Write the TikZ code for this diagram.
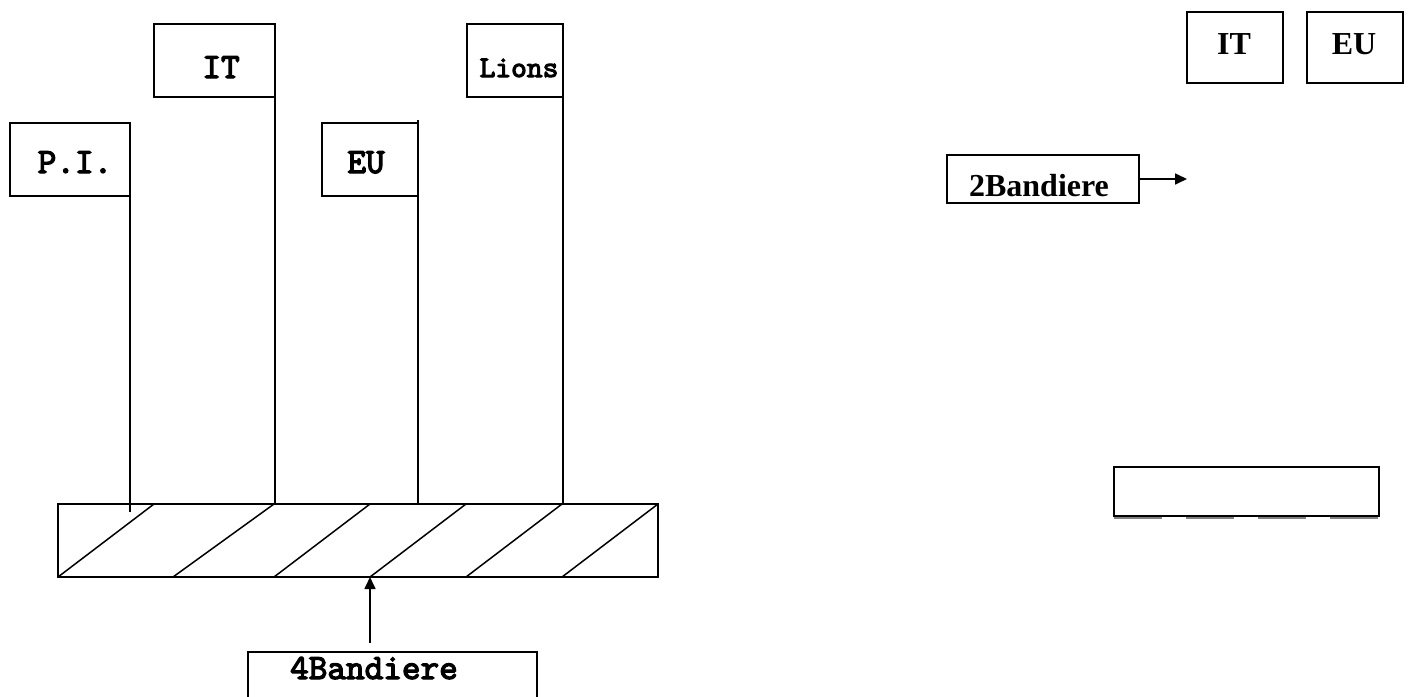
\documentclass[tikz,border=0pt]{standalone}
\usepackage{fontspec}
\newfontfamily\tms{Liberation Serif}
\newfontfamily\cour{lmmono10-regular.otf}[FakeBold=3.5]
\usetikzlibrary{arrows.meta}
\begin{document}
\begin{tikzpicture}[x=1pt,y=-1pt,
  box/.style={draw,line width=1.9pt,rectangle,inner sep=0pt,outer sep=0pt},
  ctext/.style={font=\cour\bfseries\fontsize{35.5}{37}\selectfont,anchor=base,inner sep=0pt},
  csmall/.style={font=\cour\bfseries\fontsize{30}{32}\selectfont,anchor=base,inner sep=0pt},
  ttext/.style={font=\tms\bfseries\fontsize{32}{34}\selectfont,anchor=base,inner sep=0pt},
  pole/.style={line width=1.6pt},
  hatch/.style={line width=1.5pt},
  tip/.style={-{Triangle[length=12pt,width=11pt]},line width=1.7pt}]
\useasboundingbox (0,0) rectangle (1413,696);
\fill[white] (0,0) rectangle (1413,696);
% left flags
\node[box,minimum width=120pt,minimum height=73pt] (pi) at (70,159.5) {};
\node[box,minimum width=121pt,minimum height=73pt] (it) at (214.5,60.5) {};
\node[box,minimum width=96pt,minimum height=73pt] (eu) at (370,159.5) {};
\node[box,minimum width=96pt,minimum height=73pt] (lions) at (515,60.5) {};
\node[box,minimum width=600pt,minimum height=73pt] (bar) at (358,540.5) {};
\node[box,minimum width=289pt,minimum height=68pt] (b4) at (392.5,686) {};
\node[ctext] (tpi) at (75,173) {P.I.};
\node[ctext] (tit) at (221,78) {IT};
\node[ctext] (teu) at (366,173) {EU};
\node[csmall] (tlions) at (519,77) {Lions};
\node[ctext] (t4) at (374,679) {4Bandiere};
% poles
\coordinate (piend) at (130,512);
\draw[pole] (pi.north east) -- (piend);
\draw[pole] (it.north east) -- (it.north east |- bar.north);
\draw[pole] ([yshift=3pt]eu.north east) -- (eu.north east |- bar.north);
\draw[pole] (lions.north east) -- (lions.north east |- bar.north);
% hatching
\foreach \a/\b in {58/154,173/274,274/370,370/466,466/562,562/658}
  \draw[hatch] (\a,577) -- (\b,504);
% arrow to bar
\coordinate (a4) at (370,643);
\draw[tip] (a4) -- (a4 |- bar.south);
% right side
\node[box,minimum width=96pt,minimum height=71pt] (itr) at (1235,47.5) {};
\node[box,minimum width=96pt,minimum height=71pt] (eur) at (1355,47.5) {};
\node[ttext] (titr) at (1234,54) {IT};
\node[ttext] (teur) at (1354,54) {EU};
\node[box,minimum width=192pt,minimum height=48pt] (b2) at (1043,179) {};
\node[ttext] (t2) at (1039,196) {2Bandiere};
\coordinate (b2end) at (1187,179);
\draw[tip] (b2.east) -- (b2end);
\node[box,minimum width=265pt,minimum height=49pt] (empty) at (1246.5,491.5) {};
\draw[gray,line width=2pt,dash pattern=on 48pt off 24pt]
  ([yshift=-2pt]empty.south west) -- ([yshift=-2pt]empty.south east);
\end{tikzpicture}
\end{document}
